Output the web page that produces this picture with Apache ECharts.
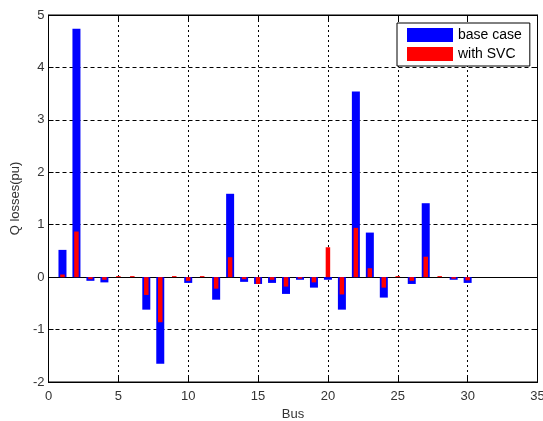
<!DOCTYPE html>
<html>
<head>
<meta charset="utf-8">
<script src="https://cdn.jsdelivr.net/npm/echarts@6/dist/echarts.min.js"></script>
<style>
html,body{margin:0;padding:0;background:#fff;}
#c{width:543px;height:421px;}
</style>
</head>
<body>
<div id="c"></div>
<script>
const buses = [1,2,3,4,5,6,7,8,9,10,11,12,13,14,15,16,17,18,19,20,21,22,23,24,25,26,27,28,29,30];
const baseCase = [0.52,4.74,-0.07,-0.10,0,0,-0.62,-1.65,0,-0.11,0,-0.43,1.59,-0.09,-0.13,-0.11,-0.32,-0.05,-0.20,-0.05,-0.62,3.54,0.85,-0.39,0,-0.13,1.41,0,-0.05,-0.11];
const withSVC = [0.05,0.87,-0.04,-0.05,0.02,0.02,-0.34,-0.86,0.02,-0.07,0.02,-0.22,0.38,-0.04,-0.13,-0.05,-0.18,-0.03,-0.10,0.57,-0.33,0.94,0.17,-0.20,0.02,-0.07,0.39,0.02,-0.03,-0.06];
const xTicks = [0,5,10,15,20,25,30,35];
const yTicks = [-2,-1,0,1,2,3,4,5];

const chart = echarts.init(document.getElementById('c'), null, {renderer:'canvas'});
const font = 'Liberation Sans, Arial, sans-serif';
const xMin = xTicks[0], xMax = xTicks[xTicks.length-1];
const yMin = yTicks[0], yMax = yTicks[yTicks.length-1];

chart.setOption({
  animation:false,
  backgroundColor:'#fff',
  grid:{left:48.5,right:5.5,top:15,bottom:39,containLabel:false,outerBoundsMode:'none',
        show:true,borderColor:'#000',borderWidth:1,backgroundColor:'#fff'},
  legend:{
    data:['base case','with SVC'],
    orient:'vertical', left:397, top:23,
    padding:[5,8,5,10], itemWidth:46, itemHeight:14, itemGap:5,
    icon:'rect', borderColor:'#000', borderWidth:1, backgroundColor:'#fff', borderRadius:0,
    textStyle:{fontFamily:font,fontSize:14,color:'#000'}
  },
  xAxis:[
    {type:'value',min:xMin,max:xMax,interval:5,position:'bottom',
     axisLine:{onZero:false,lineStyle:{color:'#000',width:1}},
     axisTick:{inside:true,length:5,lineStyle:{color:'#000'}},
     axisLabel:{fontFamily:font,fontSize:13,color:'#333',margin:8},
     splitLine:{show:true,lineStyle:{color:'#000',type:[2,3],width:1}},
     name:'Bus',nameLocation:'middle',nameGap:25,
     nameTextStyle:{fontFamily:font,fontSize:13,color:'#333'}},
    {type:'value',min:xMin,max:xMax,interval:5,position:'bottom',
     axisLine:{show:true,onZero:true,onZeroAxisIndex:0,lineStyle:{color:'#000',width:1}},
     axisTick:{show:false},axisLabel:{show:false},splitLine:{show:false}},
    {type:'value',min:xMin,max:xMax,interval:5,position:'top',
     axisLine:{show:true,onZero:false,lineStyle:{color:'#000',width:1}},
     axisTick:{inside:true,length:5,lineStyle:{color:'#000'}},
     axisLabel:{show:false},splitLine:{show:false}}
  ],
  yAxis:[
    {type:'value',min:yMin,max:yMax,interval:1,position:'left',
     axisLine:{show:true,onZero:false,lineStyle:{color:'#000',width:1}},
     axisTick:{show:true,inside:true,length:5,lineStyle:{color:'#000'}},
     axisLabel:{fontFamily:font,fontSize:13,color:'#333',margin:4},
     splitLine:{show:true,lineStyle:{color:'#000',type:[4,3],width:1}},
     name:'Q losses(pu)',nameLocation:'middle',nameGap:26,nameRotate:90,
     nameTextStyle:{fontFamily:font,fontSize:13,color:'#333'}},
    {type:'value',min:yMin,max:yMax,interval:1,position:'right',
     axisLine:{show:true,onZero:false,lineStyle:{color:'#000',width:1}},
     axisTick:{show:true,inside:true,length:5,lineStyle:{color:'#000'}},
     axisLabel:{show:false},splitLine:{show:false}}
  ],
  series:[
    {name:'base case',type:'bar',xAxisIndex:0,yAxisIndex:0,barWidth:8,
     itemStyle:{color:'#0000ff'},
     data:buses.map((b,i)=>[b,baseCase[i]])},
    {name:'with SVC',type:'bar',xAxisIndex:1,yAxisIndex:0,barWidth:4.5,
     itemStyle:{color:'#ff0000'},
     data:buses.map((b,i)=>[b,withSVC[i]])}
  ]
});
</script>
</body>
</html>
